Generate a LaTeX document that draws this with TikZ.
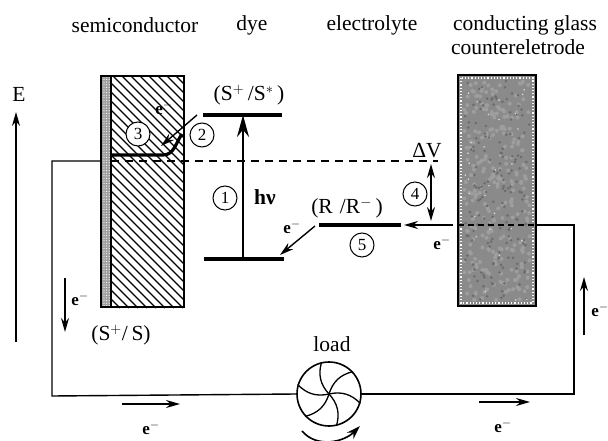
\documentclass[tikz,border=0pt]{standalone}
\usepackage{fontspec}
\setmainfont{Liberation Serif}
\usepackage{xcolor}
\usepackage{tikz}
\usetikzlibrary{positioning}
\usetikzlibrary{patterns.meta}
\usetikzlibrary{arrows.meta}
\pgfdeclarelayer{nodelayer}
\pgfdeclarelayer{edgelayer}
\pgfsetlayers{nodelayer,main,edgelayer}
\tikzset{
  label text/.style={inner sep=0pt, font=\fontsize{21.5}{24}\selectfont},
  charge/.style={inner sep=0pt, font=\fontsize{17}{17}\selectfont\bfseries},
  stage/.style={circle, draw, fill=white, line width=1pt, minimum size=24pt, inner sep=0pt, font=\fontsize{17}{17}\selectfont},
  level/.style={line width=3.2pt},
  wire/.style={line width=1.4pt},
  head/.style={line width=1.4pt, -{Stealth[length=14pt,width=8pt]}},
  pt/.style={inner sep=0pt, minimum size=0pt},
}
\begin{document}
\begin{tikzpicture}[x=1pt, y=-1pt]
  \useasboundingbox (0,0) rectangle (608,441);
  \begin{pgfonlayer}{nodelayer}
    % cells
    \begin{scope}
      \clip (111,76) rectangle (184,308);
      \foreach \k in {-121,-112,...,184}
        \draw [line width=1.4pt] (\k,76) to ({\k+232},308);
    \end{scope}
    \fill [gray!75] (101,76) rectangle (111,308);
    \fill [pattern={Dots[radius=0.6pt,distance=2.6pt]}, pattern color=white] (101,76) rectangle (111,308);
    \draw [line width=1.8pt] (101,76) rectangle (184,307);
    \draw [line width=1.3pt] (111,76) to (111,307);
    \fill [black!46] (458,75) rectangle (536,306);
    \pgfmathsetseed{7}
    \foreach \i in {1,...,260}
      \fill [black!38] ({464+66*rnd},{81+219*rnd}) circle (2);
    \foreach \i in {1,...,160}
      \fill [black!58] ({464+66*rnd},{81+219*rnd}) circle (1.4);
    \foreach \i in {1,...,30}
      \fill [black!15] ({464+66*rnd},{81+219*rnd}) circle (0.9);
    \draw [white, line width=1.2pt, dotted] (461,78) rectangle (533,303);
    \draw [line width=1.6pt] (458,75) rectangle (536,306);
  \end{pgfonlayer}
  \begin{pgfonlayer}{edgelayer}
    % energy levels and wires first, circles go on top
    \node [pt] (24) at (203,115) {};
    \node [pt] (25) at (282,115) {};
    \node [pt] (26) at (204,259) {};
    \node [pt] (27) at (284,259) {};
    \node [pt] (28) at (319,225) {};
    \node [pt] (29) at (401,225) {};
    \node [pt] (30) at (243,259) {};
    \node [pt] (31) at (243,115) {};
    \node [pt] (32) at (111,161) {};
    \node [pt] (33) at (438,161) {};
    \node [pt] (34) at (101,161) {};
    \node [pt] (35) at (52,161) {};
    \node [pt] (36) at (52,396) {};
    \node [pt] (37) at (574,394) {};
    \node [pt] (38) at (574,225) {};
    \node [pt] (39) at (536,225) {};
    \node [pt] (40) at (458,225) {};
    \node [pt] (41) at (453,225) {};
    \node [pt] (42) at (404,225) {};
    \node [pt] (43) at (431,164) {};
    \node [pt] (44) at (431,221) {};
    \node [pt] (45) at (111,155) {};
    \node [pt] (46) at (197,115) {};
    \node [pt] (47) at (161,146) {};
    \node [pt] (48) at (315,226) {};
    \node [pt] (49) at (280,255) {};
    \node [pt] (50) at (16,342) {};
    \node [pt] (51) at (16,112) {};
    \node [pt] (52) at (65,278) {};
    \node [pt] (53) at (65,332) {};
    \node [pt] (54) at (584,335) {};
    \node [pt] (55) at (584,277) {};
    \node [pt] (56) at (122,404) {};
    \node [pt] (57) at (180,404) {};
    \node [pt] (58) at (479,402) {};
    \node [pt] (59) at (530,402) {};
    \node [pt] (60) at (302,431) {};
    \node [pt] (61) at (360,426) {};
    \node [circle, draw, line width=1.6pt, minimum size=64pt, inner sep=0pt] (fan) at (329,394) {};
    \draw [level] (24.center) to (25.center);
    \draw [level] (26.center) to (27.center);
    \draw [level] (28.center) to (29.center);
    \draw [line width=2.2pt, -{Stealth[length=22pt,width=12pt]}] (30.center) to (31.center);
    \draw [wire, dash pattern=on 8pt off 6pt] (32.center) to (33.center);
    \draw [wire, dash pattern=on 6pt off 4pt] (40.center) to (39.center);
    % external circuit
    \draw [wire] (34.center) to (35.center) to (36.center) to (fan.west);
    \draw [wire] (fan.east) to (37.center) to (38.center) to (39.center);
    % injection
    \draw [level] (45.center) to (163,155) to [out=0, in=-125] (182,134);
    \draw [head] (46.center) to (47.center);
    \draw [head] (48.center) to (49.center);
    \draw [head] (41.center) to (42.center);
    \draw [head, {Stealth[length=14pt,width=8pt]}-{Stealth[length=14pt,width=8pt]}] (43.center) to (44.center);
    % small arrows
    \draw [head] (50.center) to (51.center);
    \draw [head] (52.center) to (53.center);
    \draw [head] (54.center) to (55.center);
    \draw [head] (56.center) to (57.center);
    \draw [head] (58.center) to (59.center);
    \draw [line width=1.6pt, -{Stealth[length=14pt,width=9pt]}] (60.center) to [out=-50, in=225] (61.center);
    % blades
    \foreach \a in {43,103,...,343}
      \draw [line width=1.3pt] (fan.center) to [bend left=30] (fan.\a);
    % headings
    \node [label text] (0) at (135,25) {semiconductor};
    \node [label text] (1) at (252,25) {dye};
    \node [label text] (2) at (372,25) {electrolyte};
    \node [label text] (3) at (525,25) {conducting glass};
    \node [label text] (4) at (518,47) {countereletrode};
    \node [label text] (5) at (19,94) {E};
    % levels
    \node [label text] (6) at (249,95) {(S$^{+}$\,/S$^{*}$\,)};
    \node [label text] (7) at (347,208) {(R\,\,/R$^{-}$\,)};
    \node [label text] (8) at (121,335) {(S$^{+}$/\,S)};
    \node [label text] (9) at (427,151) {ΔV};
    \node [label text] (10) at (332,344) {load};
    \node [label text, font=\fontsize{21.5}{24}\selectfont\bfseries] (11) at (265,197) {hν};
    % circled steps
    \node [stage] (12) at (225,198) {1};
    \node [stage] (13) at (202,135) {2};
    \node [stage] (14) at (138,134) {3};
    \node [stage] (15) at (415,194) {4};
    \node [stage] (16) at (362,245) {5};
    % electrons
    \node [charge] (17) at (164,108) {e$^{-}$};
    \node [charge] (18) at (292,227) {e$^{-}$};
    \node [charge] (19) at (442,243) {e$^{-}$};
    \node [charge] (20) at (600,310) {e$^{-}$};
    \node [charge] (21) at (80,299) {e$^{-}$};
    \node [charge] (22) at (151,428) {e$^{-}$};
    \node [charge] (23) at (503,426) {e$^{-}$};
  \end{pgfonlayer}
\end{tikzpicture}
\end{document}
